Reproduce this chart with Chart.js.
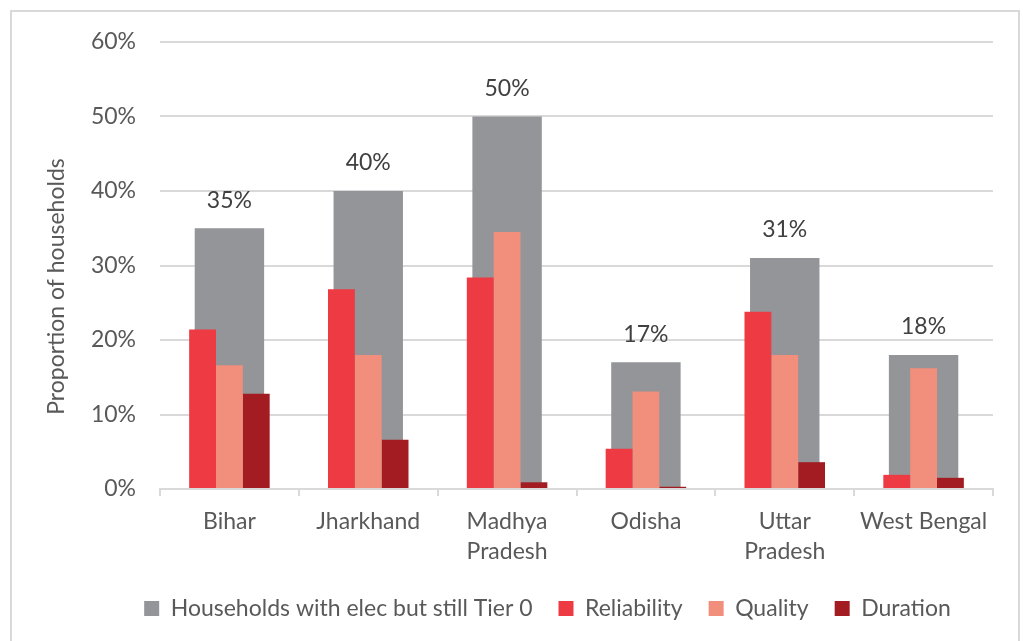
<!DOCTYPE html>
<html lang="en">
<head>
    <meta charset="UTF-8">
    <title>Households with electricity but still Tier 0</title>
    <script src="https://cdn.jsdelivr.net/npm/chart.js"></script>
    <style>
        body {
            margin: 0;
            padding: 0;
            background: #ffffff;
            overflow: hidden;
            font-family: Lato, Arial, sans-serif;
        }
        .frame {
            position: absolute;
            left: 10px;
            top: 10px;
            width: 1010px;
            height: 640px;
            border: 2px solid #d9d9d9;
            box-sizing: border-box;
        }
        .wrap {
            position: absolute;
            left: 0;
            top: 0;
            width: 1023px;
            height: 641px;
        }
    </style>
</head>
<body>
    <div class="frame"></div>
    <div class="wrap"><canvas id="tierChart"></canvas></div>

    <script>
        const states = [["Bihar"], ["Jharkhand"], ["Madhya", "Pradesh"], ["Odisha"], ["Uttar", "Pradesh"], ["West Bengal"]];
        const tierZero = [35, 40, 50, 17, 31, 18];
        const reliability = [21.4, 26.8, 28.4, 5.4, 23.8, 1.9];
        const quality = [16.6, 18.0, 34.5, 13.1, 18.0, 16.2];
        const duration = [12.8, 6.6, 0.9, 0.3, 3.6, 1.5];
        const yTicks = [0, 10, 20, 30, 40, 50, 60];
        const yTitle = 'Proportion of households';

        const fontFamily = 'Lato, Arial, sans-serif';
        const fontSize = 23;

        // value labels above the grey bars + y title a bit lower than centre, like the original
        const extras = {
            id: 'extras',
            afterLayout(chart) {
                // legend sits slightly right of the page centre in the original
                chart.legend.left += 31;
                chart.legend.right += 31;
            },
            afterDatasetsDraw(chart) {
                const meta = chart.getDatasetMeta(0);
                const c = chart.ctx;
                c.save();
                c.font = fontSize + 'px ' + fontFamily;
                c.fillStyle = '#404040';
                c.textAlign = 'center';
                c.textBaseline = 'middle';
                meta.data.forEach((bar, i) => {
                    c.fillText(tierZero[i] + '%', bar.x, bar.y - 28);
                });
                c.restore();

                const area = chart.chartArea;
                c.save();
                c.font = fontSize + 'px ' + fontFamily;
                c.fillStyle = '#595959';
                c.textAlign = 'center';
                c.textBaseline = 'middle';
                c.translate(57, (area.top + area.bottom) / 2 + 21);
                c.rotate(-Math.PI / 2);
                c.fillText(yTitle, 0, 0);
                c.restore();
            }
        };

        const ctx = document.getElementById('tierChart').getContext('2d');
        const chart = new Chart(ctx, {
            type: 'bar',
            data: {
                labels: states,
                datasets: [
                    {
                        label: 'Households with elec but still Tier 0',
                        data: tierZero,
                        backgroundColor: '#939598',
                        grouped: false,
                        order: 1,
                        categoryPercentage: 1,
                        barPercentage: 0.5
                    },
                    {
                        label: 'Reliability',
                        data: reliability,
                        backgroundColor: '#ee3a43',
                        categoryPercentage: 0.58,
                        barPercentage: 1
                    },
                    {
                        label: 'Quality',
                        data: quality,
                        backgroundColor: '#f28e7c',
                        categoryPercentage: 0.58,
                        barPercentage: 1
                    },
                    {
                        label: 'Duration',
                        data: duration,
                        backgroundColor: '#a21c21',
                        categoryPercentage: 0.58,
                        barPercentage: 1
                    }
                ]
            },
            options: {
                responsive: true,
                maintainAspectRatio: false,
                animation: false,
                layout: {
                    padding: { left: 40, right: 30, top: 42, bottom: 11 }
                },
                plugins: {
                    tooltip: { enabled: false },
                    legend: {
                        position: 'bottom',
                        labels: {
                            color: '#595959',
                            font: { family: fontFamily, size: fontSize },
                            boxWidth: 15,
                            boxHeight: 15,
                            padding: 26,
                            sort: (a, b) => a.datasetIndex - b.datasetIndex
                        }
                    }
                },
                scales: {
                    x: {
                        grid: {
                            display: true,
                            drawOnChartArea: false,
                            drawTicks: true,
                            tickLength: 7,
                            color: '#d9d9d9',
                            lineWidth: 2
                        },
                        border: { color: '#d9d9d9', width: 2 },
                        ticks: {
                            color: '#595959',
                            font: { family: fontFamily, size: fontSize, lineHeight: 1.3 },
                            padding: 11,
                            maxRotation: 0,
                            autoSkip: false
                        },
                        afterFit(scale) { scale.height = 82; }
                    },
                    y: {
                        min: 0,
                        max: 60,
                        afterBuildTicks(scale) {
                            scale.ticks = yTicks.map(v => ({ value: v }));
                        },
                        grid: {
                            color: '#d9d9d9',
                            lineWidth: 2,
                            drawTicks: false
                        },
                        border: { display: false },
                        ticks: {
                            color: '#595959',
                            font: { family: fontFamily, size: fontSize },
                            padding: 24,
                            callback: v => v + '%'
                        },
                        afterFit(scale) { scale.width = 120; }
                    }
                }
            },
            plugins: [extras]
        });
    </script>
</body>
</html>
